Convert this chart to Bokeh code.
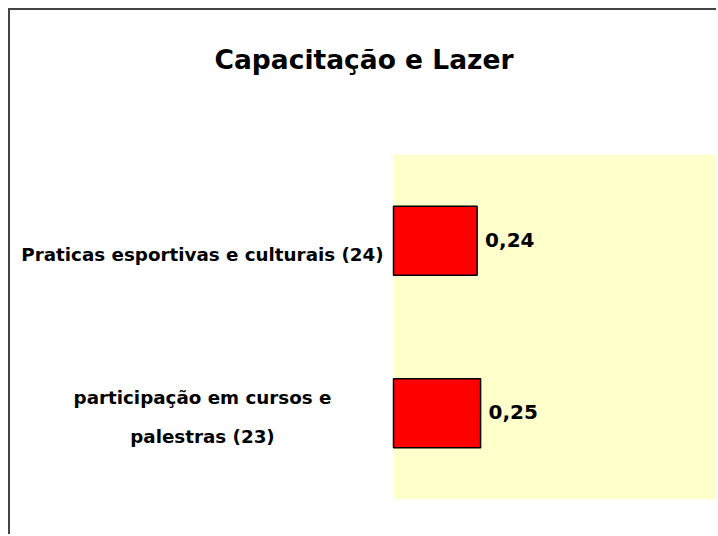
from bokeh.plotting import figure
from bokeh.models import ColumnDataSource, FactorRange, Range1d, BoxAnnotation, Title
from bokeh.core.properties import value
from bokeh.embed import file_html
from bokeh.resources import INLINE

title_text = "Capacitação e Lazer"
categories = ["participação em cursos e\npalestras (23)", "Praticas esportivas e culturais (24)"]
values = [0.25, 0.24]
value_labels = [f"{v:.2f}".replace(".", ",") for v in values]

FONT = "DejaVu Sans"
X_MAX = 0.93
PLOT_PX = 324      # width of the yellow plot area
LEFT_PX = 383      # space left of the plot area (category labels)

src = ColumnDataSource(dict(cats=categories, values=values, labels=value_labels))

p = figure(width=708, height=526, output_backend="svg", toolbar_location=None,
           y_range=FactorRange(*categories),
           x_range=Range1d(-X_MAX * LEFT_PX / PLOT_PX, X_MAX),
           min_border_left=0, min_border_top=144, min_border_right=1, min_border_bottom=37,
           title=title_text)
p.styles = {"border-left": "2px solid #444", "border-top": "2px solid #444",
            "margin-left": "8px", "margin-top": "8px"}
p.background_fill_color = "white"
p.border_fill_color = "white"
p.outline_line_color = None
p.xgrid.visible = False
p.ygrid.visible = False
p.xaxis.visible = False
p.yaxis.visible = False

p.title.align = "center"
p.title.offset = 6
p.title.text_font = FONT
p.title.text_font_style = "bold"
p.title.text_font_size = "26.5px"
p.title.text_color = "black"
p.title.standoff = 10

# blank spacer between the title and the plot area
p.add_layout(Title(text=" ", text_font_size="10px", standoff=62), "above")

p.add_layout(BoxAnnotation(left=0, fill_color="#FFFFCC", fill_alpha=1.0,
                           line_color=None, level="underlay"))

p.hbar(y="cats", right="values", left=0, height=0.4, source=src,
       fill_color="#FF0000", line_color="black", line_width=1.5)

p.text(x="values", y="cats", text="labels", source=src,
       x_offset=8, y_offset=-1, text_baseline="middle", text_align="left",
       text_font=value(FONT), text_font_style="bold", text_font_size="20px",
       text_color="black")

cat_offsets = [4, 14]
for cat, dy in zip(categories, cat_offsets):
    csrc = ColumnDataSource(dict(cats=[cat], zero=[0]))
    p.text(x="zero", y="cats", text="cats", source=csrc,
           x_offset=-191, y_offset=dy,
           text_align="center", text_baseline="middle", text_line_height=1.86,
           text_font=value(FONT), text_font_style="bold", text_font_size="18.3px",
           text_color="black")

open("out.html", "w").write(file_html(p, INLINE))
